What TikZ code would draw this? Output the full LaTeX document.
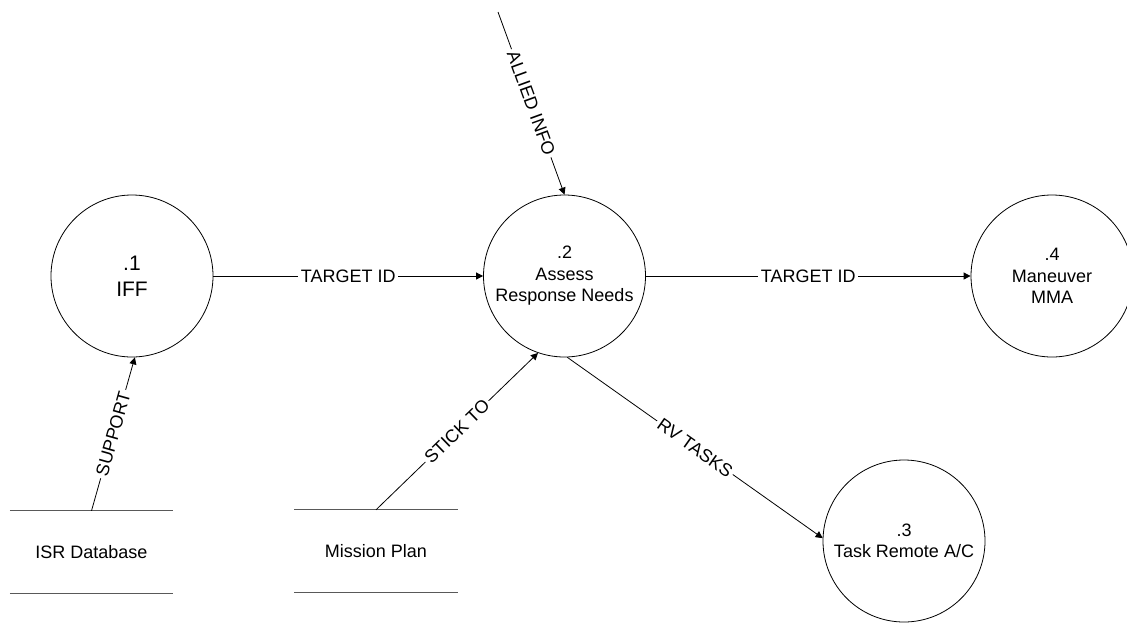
\documentclass[tikz,border=0pt]{standalone}
\usepackage{fontspec}
\setmainfont{Liberation Sans}
\usetikzlibrary{arrows.meta}
\begin{document}
\begin{tikzpicture}[x=1pt,y=-1pt,
  proc/.style={circle,draw=black,line width=0.8pt,minimum size=162pt,inner sep=0pt,
    align=center,font=\fontsize{18}{21.5}\selectfont},
  bigproc/.style={proc,font=\fontsize{21}{26}\selectfont},
  store/.style={minimum width=163pt,minimum height=82pt,inner sep=0pt,
    font=\fontsize{18}{21}\selectfont},
  storeline/.style={draw=black!65,line width=1pt},
  flow/.style={draw=black,line width=0.8pt,-{Triangle[length=7pt,width=7pt]}},
  flowlabel/.style={fill=white,inner xsep=2.5pt,inner ysep=1pt,
    font=\fontsize{18}{21}\selectfont,sloped,midway}
]
\useasboundingbox (0,0) rectangle (1127,622);
\clip (0,0) rectangle (1127,622);

% processes
\node[bigproc] (c1) at (132,276) {.1\\IFF};
\node[proc] (c2) at (564.5,276) {.2\\Assess\\Response Needs};
\node[proc] (c3) at (904,541) {.3\\Task Remote A/C};
\node[proc] (c4) at (1052,276) {.4\\Maneuver\\MMA};

% data stores
\node[store] (isr) at (91.5,552) {ISR Database};
\node[store] (mission) at (376,551) {Mission Plan};
\foreach \s in {isr,mission}{
  \draw[storeline] (\s.north west) -- (\s.north east);
  \draw[storeline] (\s.south west) -- (\s.south east);
}

% external source
\coordinate (allied) at (498,12);

% data flows
\draw[flow] (c1.east) -- node[flowlabel] {TARGET ID} (c2.west);
\draw[flow] (c2.east) -- node[flowlabel] {TARGET ID} (c4.west);
\draw[flow] (allied) -- node[flowlabel] {ALLIED INFO} (c2.north);
\draw[flow] (isr.north) -- node[flowlabel] {SUPPORT} (c1.-88);
\draw[flow] (mission.north) -- node[flowlabel] {STICK TO} (c2.-109);
\draw[flow] (c2.-88) -- node[flowlabel] {RV TASKS} (c3.178);
\end{tikzpicture}
\end{document}
